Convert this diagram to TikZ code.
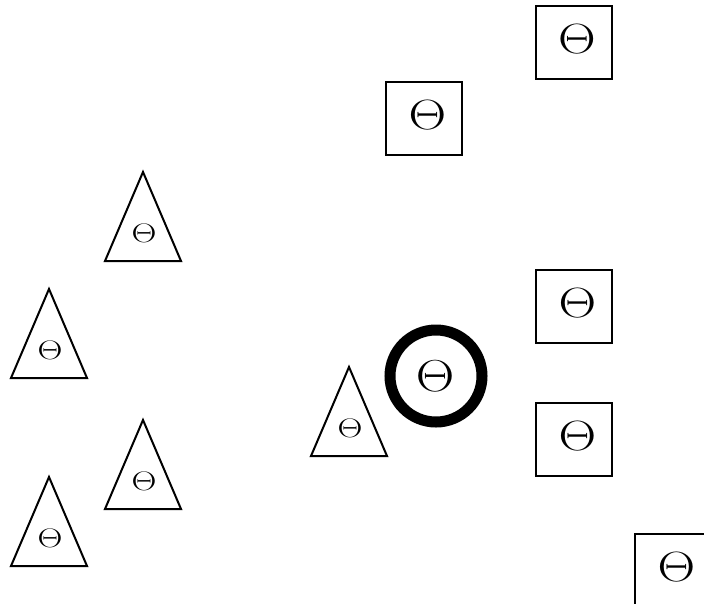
\documentclass[tikz,border=0pt]{standalone}
\usepackage{amsmath,amssymb}
\usepackage{graphicx}
\usepackage{tikz}

\newcommand{\bigth}{\scalebox{2.1}[1.7]{\Huge$\Theta$}}
\newcommand{\ringth}{\scalebox{2.15}[1.8]{\Huge$\Theta$}}
\newcommand{\smallth}{\scalebox{2.0}[1.55]{\LARGE$\Theta$}}

\begin{document}
\begin{tikzpicture}[x=1pt, y=-1pt,
  sq/.style={draw, line width=2pt, minimum width=76pt, minimum height=73pt,
    inner sep=0pt},
  tri/.style={line width=2pt, line join=miter},
  lbl/.style={inner sep=0pt},
  ring/.style={circle, draw, line width=11pt, minimum size=92pt, inner sep=0pt}]
  \clip (0,0) rectangle (704,603);
  % ---- squares ----
  \foreach \n/\x/\y in {s1/573.5/42, s2/424/118.5, s3/574/306, s4/574/439, s5/673/570} {
    \node[sq] (\n) at (\x,\y) {};
    \node[lbl] (\n t) at ([shift={(3.5,-3)}]\n.center) {\bigth};
  }
  % ---- circle ----
  \node[ring] (c1) at (436,376) {};
  \node[lbl] (c1t) at ([shift={(-1,0)}]c1.center) {\ringth};
  % ---- triangles ----
  \foreach \n/\x/\y in {t1/143/172, t2/49/289, t3/143/420, t4/49/477, t5/349/367} {
    \draw[tri] (\x,\y) -- ++(38,89) -- ++(-76,0) -- cycle;
    \node[lbl] (\n) at ({\x+1},{\y+61}) {\smallth};
  }
\end{tikzpicture}
\end{document}
